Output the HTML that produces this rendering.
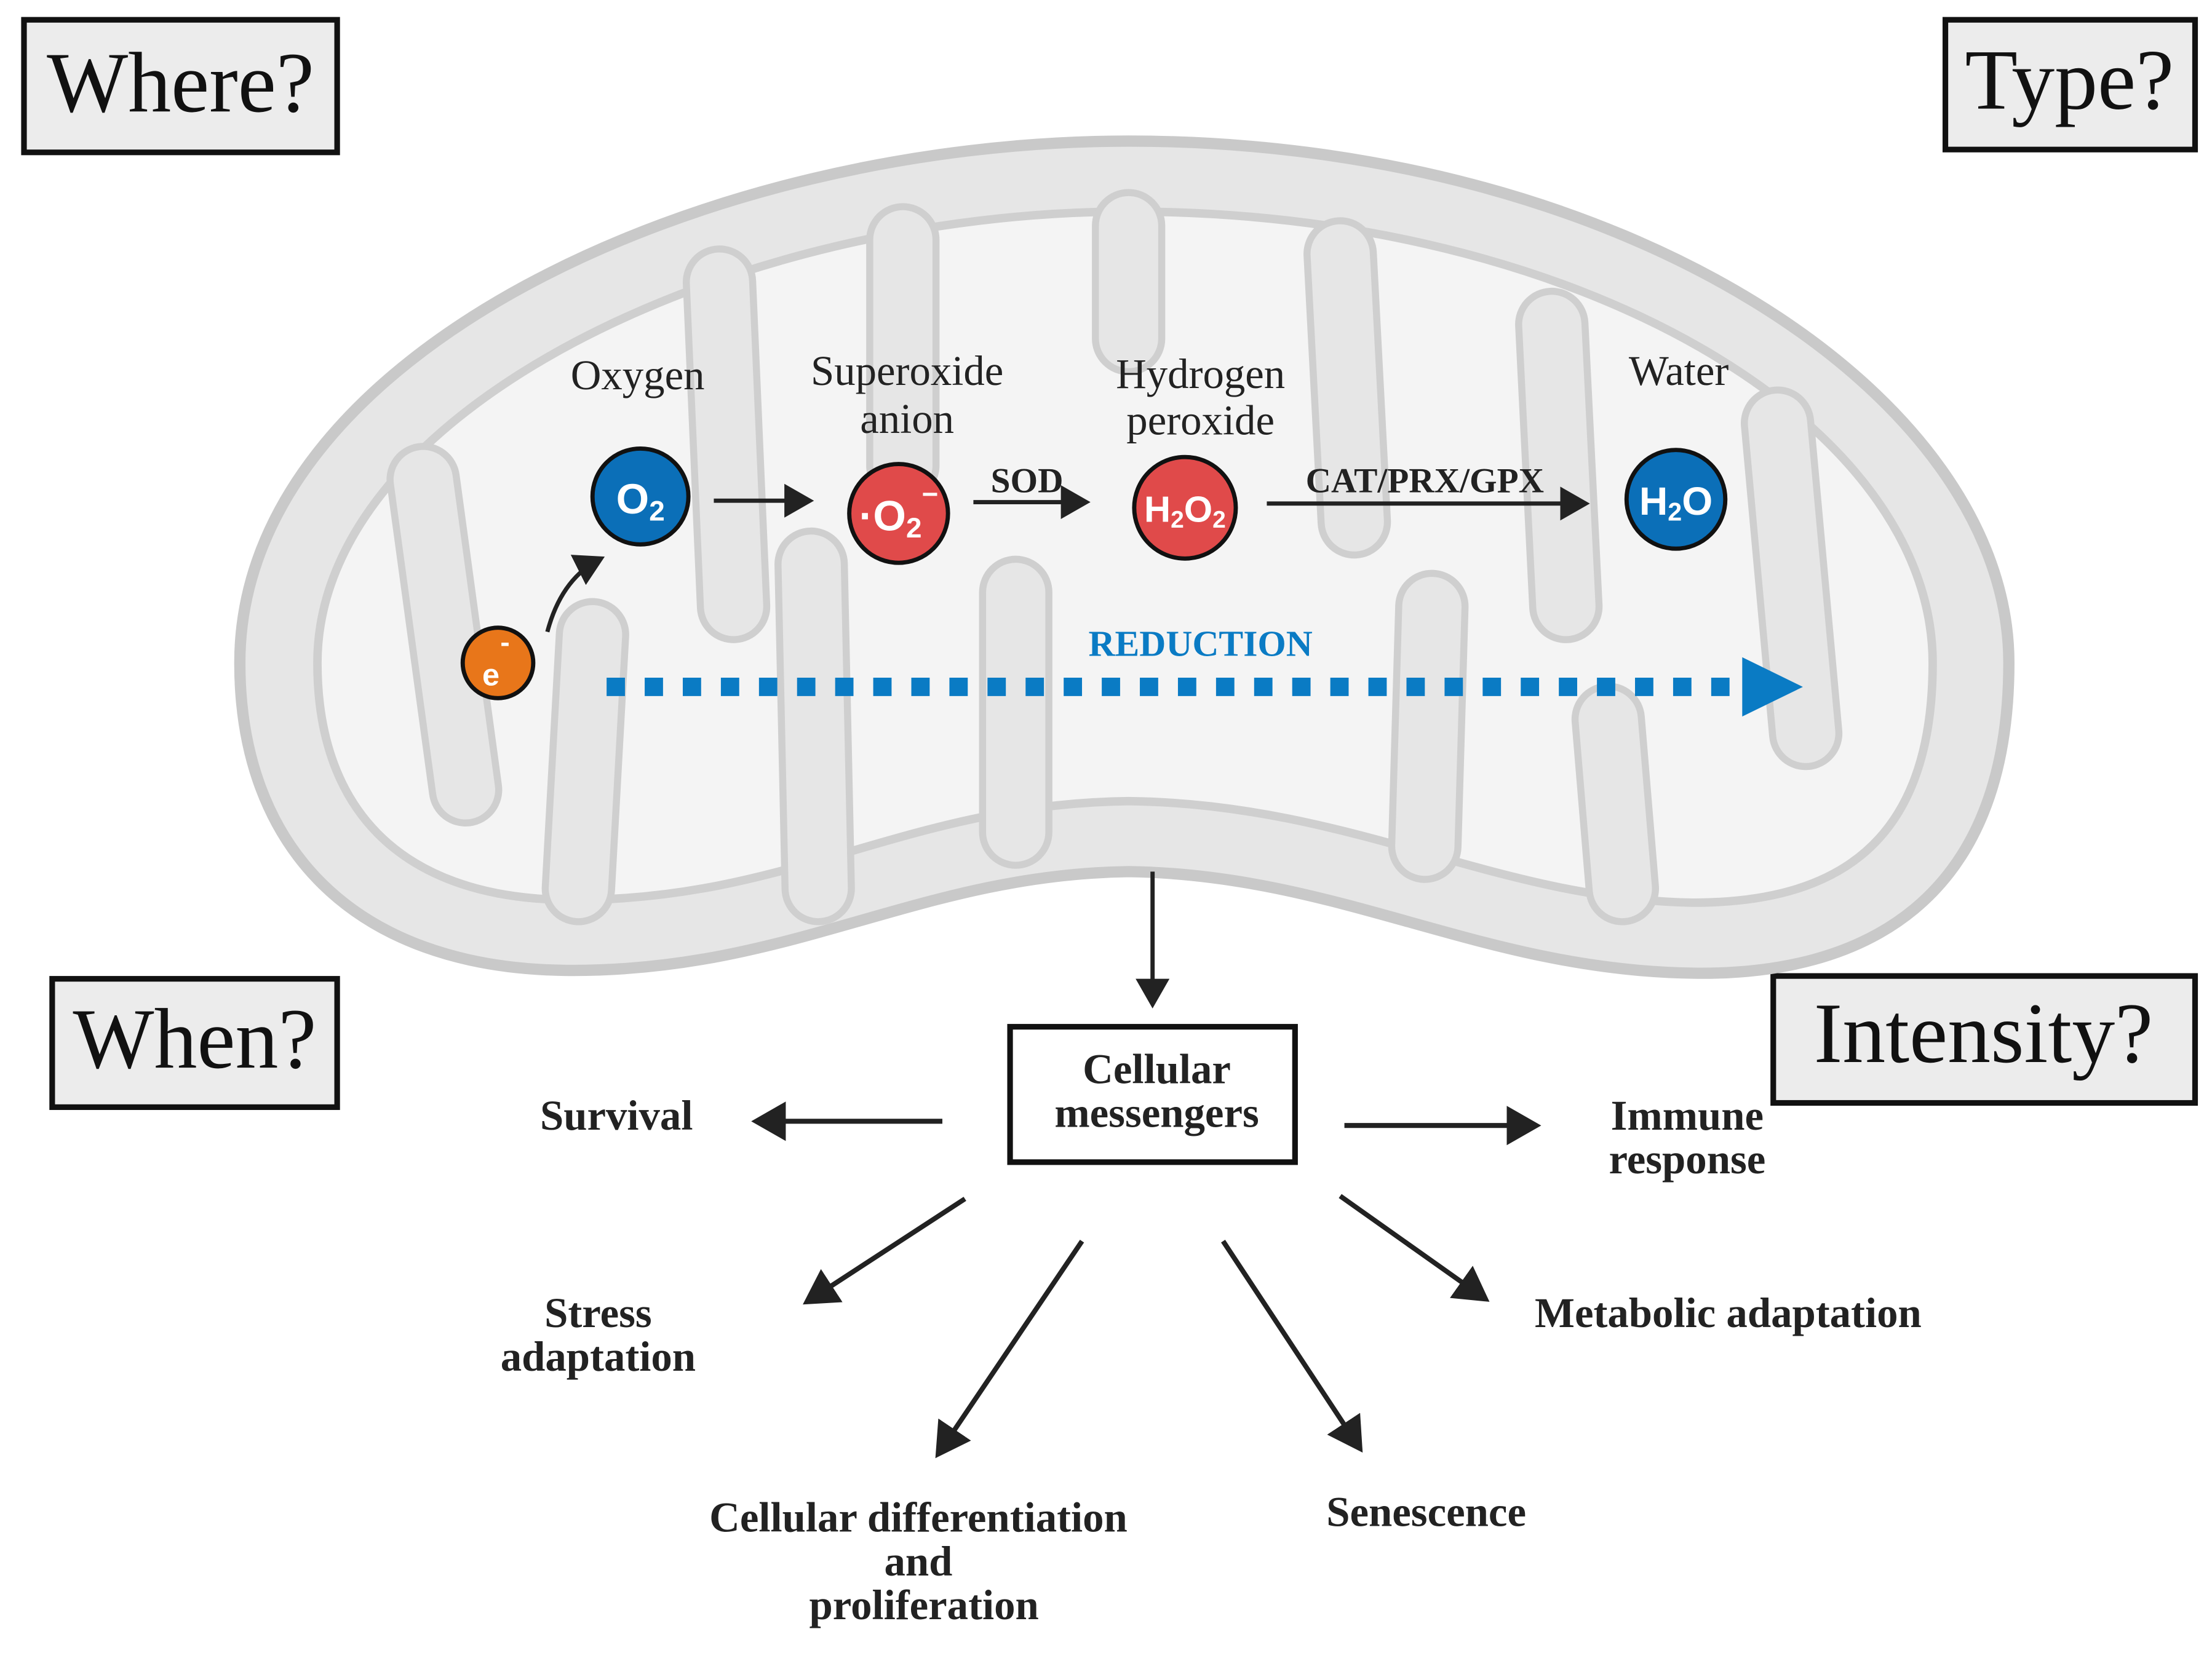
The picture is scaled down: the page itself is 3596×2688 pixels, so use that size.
<!DOCTYPE html>
<html><head><meta charset="utf-8"><style>html,body{margin:0;padding:0;background:#fff}svg{display:block}</style></head>
<body>
<svg width="3596" height="2688" viewBox="0 0 1568 1172" xmlns="http://www.w3.org/2000/svg" font-family="Liberation Serif, serif">
<defs>
<marker id="ah" markerWidth="8" markerHeight="8" refX="6" refY="4" orient="auto" markerUnits="strokeWidth"><path d="M0,0 L7,4 L0,8 Z" fill="#222"/></marker>
</defs>
<rect width="1568" height="1172" fill="#fff"/>
<g stroke="#111" stroke-width="4" fill="#ececec">
<rect x="17" y="14" width="222" height="94"/>
<rect x="1379" y="14" width="177" height="92"/>
<rect x="37" y="694" width="202" height="91"/>
<rect x="1257" y="692" width="299" height="90"/>
</g>
<g font-size="61" fill="#111" text-anchor="middle">
<text x="128" y="79">Where?</text>
<text x="1467" y="77">Type?</text>
<text x="138" y="757">When?</text>
<text x="1406" y="753">Intensity?</text>
</g>
<path d="M170 470 C170 250 500 100 800 100 C1150 100 1424 280 1424 470 C1424 640 1320 692 1200 690 C1050 688 950 620 800 618 C650 620 560 690 400 688 C250 686 170 600 170 470 Z" fill="#e6e6e6" stroke="#c9c9c9" stroke-width="8"/>
<path d="M225 470 C225 290 520 150 800 150 C1120 150 1370 300 1370 470 C1370 600 1300 640 1200 640 C1060 638 960 570 800 568 C640 570 560 640 400 638 C280 636 225 570 225 470 Z" fill="#f4f4f4" stroke="#cfcfcf" stroke-width="6"/>
<g stroke-linecap="round" fill="none">
<g stroke="#cfcfcf" stroke-width="52">
<path d="M300 340 L330 560"/><path d="M510 200 L520 430"/><path d="M640 170 L640 330"/><path d="M800 160 L800 240"/><path d="M950 180 L960 370"/><path d="M1100 230 L1110 430"/><path d="M1260 300 L1280 520"/>
<path d="M410 630 L420 450"/><path d="M580 630 L575 400"/><path d="M720 590 L720 420"/><path d="M1010 600 L1015 430"/><path d="M1150 630 L1140 510"/>
</g>
<g stroke="#e6e6e6" stroke-width="42">
<path d="M300 340 L330 560"/><path d="M510 200 L520 430"/><path d="M640 170 L640 330"/><path d="M800 160 L800 240"/><path d="M950 180 L960 370"/><path d="M1100 230 L1110 430"/><path d="M1260 300 L1280 520"/>
<path d="M410 630 L420 450"/><path d="M580 630 L575 400"/><path d="M720 590 L720 420"/><path d="M1010 600 L1015 430"/><path d="M1150 630 L1140 510"/>
</g>
</g>
<g font-size="30" fill="#222" text-anchor="middle">
<text x="452" y="276">Oxygen</text>
<text x="643" y="273">Superoxide</text>
<text x="643" y="307">anion</text>
<text x="851" y="275">Hydrogen</text>
<text x="851" y="308">peroxide</text>
<text x="1190" y="273">Water</text>
</g>
<g stroke="#222" stroke-width="3" fill="none" marker-end="url(#ah)">
<path d="M506 355 L574 355"/>
<path d="M690 356 L770 356"/>
<path d="M898 357 L1124 357"/>
<path d="M388 448 Q398 410 426 396"/>
</g>
<g font-size="25" font-weight="bold" fill="#222" text-anchor="middle">
<text x="728" y="349">SOD</text>
<text x="1010" y="349">CAT/PRX/GPX</text>
</g>
<g stroke="#111" stroke-width="3">
<circle cx="454" cy="352" r="34" fill="#0b6fb8"/>
<circle cx="637" cy="364" r="35" fill="#e04a4a"/>
<circle cx="840" cy="360" r="36" fill="#e04a4a"/>
<circle cx="1188" cy="354" r="35" fill="#0b6fb8"/>
<circle cx="353" cy="470" r="25" fill="#e8761a"/>
</g>
<g fill="#fff" font-family="Liberation Sans, sans-serif" font-weight="bold" text-anchor="middle">
<text x="454" y="364" font-size="30">O<tspan font-size="20" dy="5">2</tspan></text>
<text x="637" y="376" font-size="30">·O<tspan font-size="20" dy="5">2</tspan><tspan font-size="20" dy="-24">−</tspan></text>
<text x="840" y="370" font-size="26">H<tspan font-size="17" dy="4">2</tspan><tspan dy="-4">O</tspan><tspan font-size="17" dy="4">2</tspan></text>
<text x="1188" y="365" font-size="28">H<tspan font-size="18" dy="4">2</tspan><tspan dy="-4">O</tspan></text>
<text x="348" y="486" font-size="22">e</text>
<text x="358" y="462" font-size="20">-</text>
</g>
<path d="M430 487 L1235 487" stroke="#0a7bc4" stroke-width="13" stroke-dasharray="13 14"/>
<path d="M1235 466 L1278 487 L1235 508 Z" fill="#0a7bc4"/>
<text x="851" y="465" font-size="26" font-weight="bold" fill="#0a7bc4" text-anchor="middle">REDUCTION</text>
<path d="M817 618 L817 712" stroke="#222" stroke-width="3" fill="none" marker-end="url(#ah)"/>
<rect x="716" y="728" width="202" height="96" fill="#fff" stroke="#111" stroke-width="4"/>
<g font-size="30" font-weight="bold" fill="#222" text-anchor="middle">
<text x="820" y="768">Cellular</text>
<text x="820" y="799">messengers</text>
<text x="437" y="801">Survival</text>
<text x="1196" y="801">Immune</text>
<text x="1196" y="832">response</text>
<text x="424" y="941">Stress</text>
<text x="424" y="972">adaptation</text>
<text x="1225" y="941">Metabolic adaptation</text>
<text x="651" y="1086">Cellular differentiation</text>
<text x="651" y="1117">and</text>
<text x="655" y="1148">proliferation</text>
<text x="1011" y="1082">Senescence</text>
</g>
<g stroke="#222" stroke-width="3.5" fill="none" marker-end="url(#ah)">
<path d="M668 795 L536 795"/>
<path d="M953 798 L1089 798"/>
<path d="M684 850 L572 923"/>
<path d="M767 880 L665 1031"/>
<path d="M867 880 L964 1027"/>
<path d="M950 848 L1053 921"/>
</g>
</svg>
</body></html>
